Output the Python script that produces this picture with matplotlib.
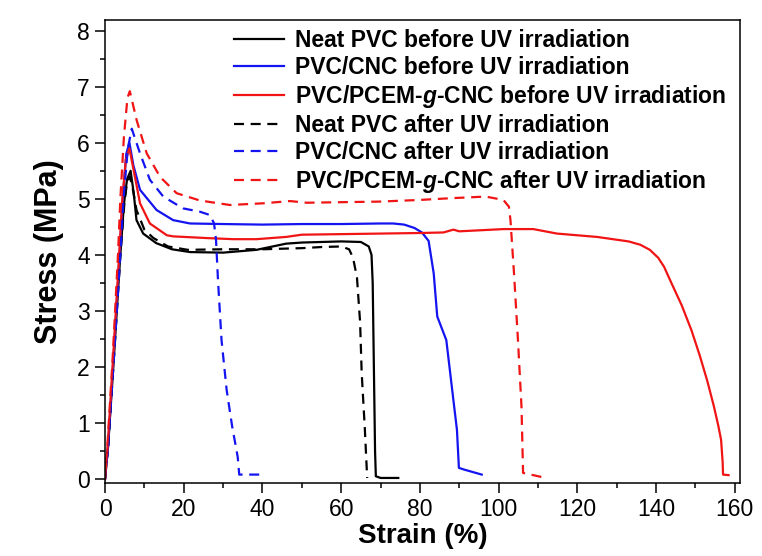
import matplotlib
matplotlib.use("Agg")
from matplotlib import pyplot as plt
from matplotlib.ticker import MultipleLocator

plt.rcParams['font.family'] = ['Liberation Sans', 'DejaVu Sans']
plt.rcParams['mathtext.fontset'] = 'custom'
plt.rcParams['mathtext.it'] = 'Liberation Sans:italic:bold'
plt.rcParams['mathtext.rm'] = 'Liberation Sans:bold'

# strain (%) / stress (MPa)
neatBeforeX = [0, 0.8, 2.2, 3.8, 4.8, 5.6, 6.5, 7.3, 8.0, 9.7, 13.0, 17.0, 21.6, 30.0, 38.5, 46.0,
               50.0, 55.0, 60.0, 65.0, 67.0, 67.7, 68.0, 68.3, 68.6, 68.8, 70.0, 74.5]
neatBeforeY = [0, 0.6, 2.1, 3.9, 4.9, 5.35, 5.5, 5.1, 4.62, 4.38, 4.21, 4.1, 4.05, 4.04, 4.09, 4.2,
               4.22, 4.23, 4.24, 4.23, 4.15, 4.0, 3.5, 2.0, 0.5, 0.05, 0.02, 0.02]

cncBeforeX = [0, 0.8, 2.1, 3.7, 4.5, 5.4, 6.2, 7.2, 8.9, 13.1, 17.3, 21.6, 30, 40, 50, 60, 70, 73.2,
              76.0, 78.6, 80.5, 82.2, 83.5, 84.4, 86.7, 88.5, 89.4, 89.9, 91.2, 95.7]
cncBeforeY = [0, 0.6, 2.1, 4.0, 5.0, 5.8, 6.0, 5.6, 5.16, 4.8, 4.62, 4.56, 4.55, 4.54, 4.55, 4.55, 4.56, 4.56,
              4.54, 4.48, 4.4, 4.25, 3.67, 2.9, 2.48, 1.41, 0.88, 0.2, 0.17, 0.08]

pcemBeforeX = [0, 0.7, 2.0, 3.6, 4.4, 5.3, 6.2, 7.3, 8.9, 11.4, 15.7, 17.3, 25.8, 32.6, 38.5, 46.0, 50, 60,
               70, 80, 86, 88.5, 90, 101.2, 108.8, 114.8, 125, 133, 136, 138.4, 140.5, 142, 144, 146.5,
               149, 151.1, 153, 154.7, 155.8, 156.5, 156.9, 157.0, 158.4]
pcemBeforeY = [0, 0.6, 2.1, 4.0, 5.0, 5.7, 5.9, 5.5, 4.92, 4.56, 4.35, 4.33, 4.3, 4.28, 4.28, 4.32, 4.36, 4.37,
               4.38, 4.39, 4.4, 4.45, 4.42, 4.46, 4.46, 4.38, 4.32, 4.24, 4.18, 4.09, 3.95, 3.79, 3.48, 3.1,
               2.65, 2.2, 1.75, 1.29, 0.95, 0.7, 0.3, 0.08, 0.07]

neatAfterX = [0, 0.8, 2.2, 3.8, 4.9, 5.6, 6.3, 7.0, 8.0, 10.0, 12.3, 16.0, 21.0, 30, 40, 50, 55, 60, 62,
              63, 64, 64.8, 65.2, 66.0, 66.6]
neatAfterY = [0, 0.6, 2.1, 3.9, 4.9, 5.3, 5.4, 5.2, 4.8, 4.45, 4.3, 4.15, 4.09, 4.1, 4.1, 4.12, 4.14, 4.15, 4.1,
              3.95, 3.6, 2.8, 1.9, 0.9, 0.02]

cncAfterX = [0, 0.8, 2.2, 3.9, 4.7, 5.8, 6.8, 8.9, 11.4, 14.8, 19.8, 24.1, 26.7, 27.7, 28.2, 28.7, 29.6,
             30.9, 32.3, 33.7, 34.1, 40.0]
cncAfterY = [0, 0.6, 2.1, 4.0, 5.0, 5.9, 6.25, 5.81, 5.34, 5.04, 4.83, 4.77, 4.71, 4.56, 4.27, 3.55, 2.48,
             1.59, 0.94, 0.4, 0.08, 0.08]

pcemAfterX = [0, 0.6, 1.9, 3.3, 3.9, 4.8, 5.7, 6.3, 8.05, 10.6, 14.0, 18.2, 24.1, 31.7, 40.2, 47.0, 51.3,
              60, 69.5, 80, 87.6, 96.7, 101.2, 102.6, 103.0, 103.9, 104.9, 105.8, 106.2, 112.0]
pcemAfterY = [0, 0.6, 2.1, 4.0, 5.0, 6.1, 6.8, 6.92, 6.4, 5.81, 5.39, 5.1, 4.97, 4.89, 4.92, 4.96, 4.93,
              4.94, 4.95, 4.98, 5.01, 5.04, 4.98, 4.86, 4.62, 3.67, 2.48, 1.29, 0.11, 0.02]

labels = ["Neat PVC before UV irradiation",
          "PVC/CNC before UV irradiation",
          r"PVC/PCEM-$\mathit{g}$-CNC before UV irradiation",
          "Neat PVC after UV irradiation",
          "PVC/CNC after UV irradiation",
          r"PVC/PCEM-$\mathit{g}$-CNC after UV irradiation"]

black = '#000000'
blue = '#1414f0'
red = '#f01414'
dash = (0, (4.5, 3))

fig = plt.figure(figsize=(7.62, 5.56), dpi=100)
ax = fig.add_axes([0.1378, 0.1313, 0.8333, 0.8327])

ax.plot(neatBeforeX, neatBeforeY, color=black, lw=1.6, label=labels[0])
ax.plot(cncBeforeX, cncBeforeY, color=blue, lw=1.6, label=labels[1])
ax.plot(pcemBeforeX, pcemBeforeY, color=red, lw=1.6, label=labels[2])
ax.plot(neatAfterX, neatAfterY, color=black, lw=1.6, ls=dash, label=labels[3])
ax.plot(cncAfterX, cncAfterY, color=blue, lw=1.6, ls=dash, label=labels[4])
ax.plot(pcemAfterX, pcemAfterY, color=red, lw=1.6, ls=dash, label=labels[5])

ax.set_xlim(0, 161.3)
ax.set_ylim(-0.07, 8.19)
ax.xaxis.set_major_locator(MultipleLocator(20))
ax.xaxis.set_minor_locator(MultipleLocator(10))
ax.yaxis.set_major_locator(MultipleLocator(1))
ax.yaxis.set_minor_locator(MultipleLocator(0.5))
ax.tick_params(which='major', length=7, width=1.1, labelsize=16.5, pad=4)
ax.tick_params(which='minor', length=3.8, width=1.1)
for s in ax.spines.values():
    s.set_linewidth(1.1)

ax.set_xlabel("Strain (%)", fontsize=20, fontweight='bold', labelpad=1)
ax.set_ylabel("Stress (MPa)", fontsize=22, fontweight='bold', labelpad=9)

leg = ax.legend(loc='upper left', bbox_to_anchor=(0.203, 0.98), frameon=False,
                prop={'weight': 'bold', 'size': 16.5}, handlelength=2.2, handletextpad=0.45,
                labelspacing=0.17, borderpad=0, borderaxespad=0)

fig.savefig("out.png", dpi=100)
